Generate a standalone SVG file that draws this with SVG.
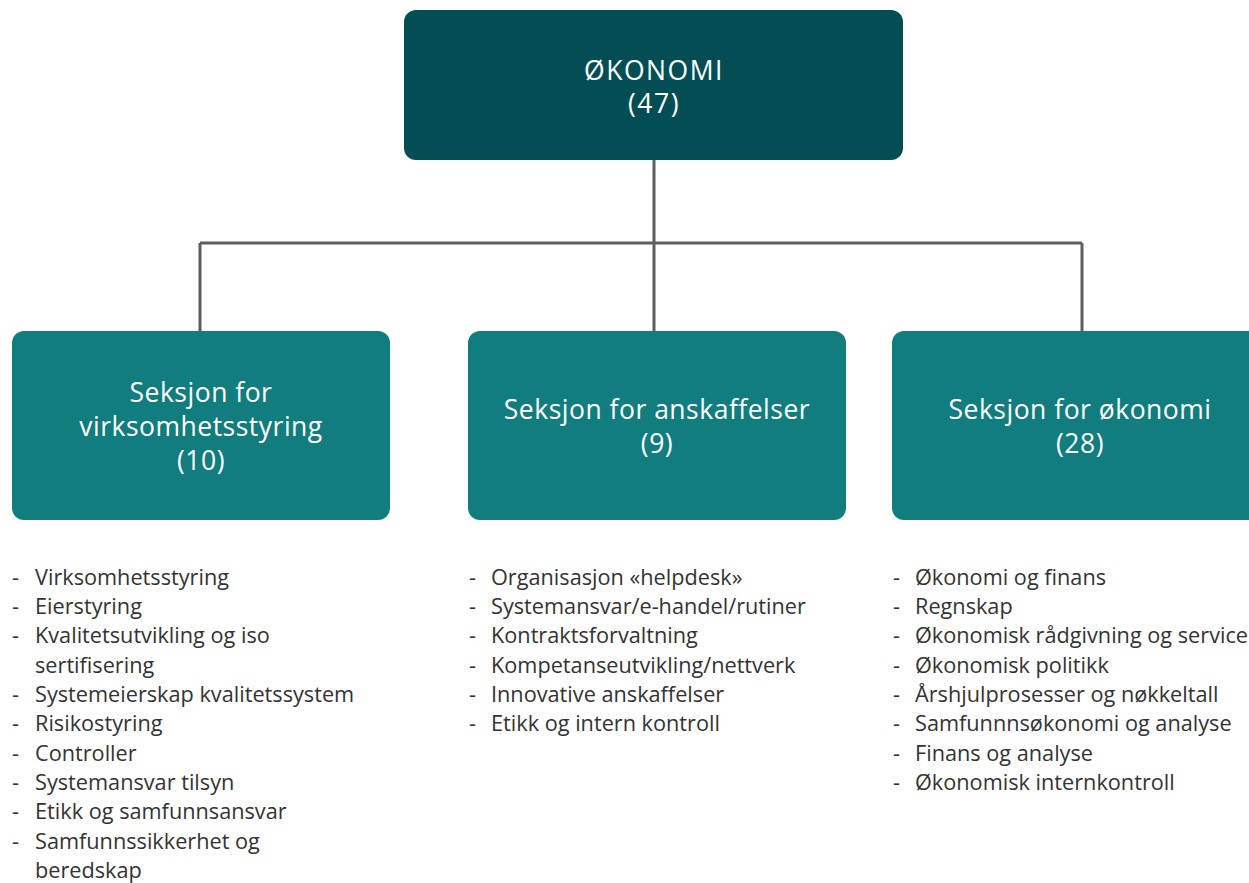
<svg xmlns="http://www.w3.org/2000/svg" width="1249" height="883" viewBox="0 0 1249 883">
<style>
.top{fill:#024E54}
.sec{fill:#117D7E}
.ht{font-family:"Open Sans",Lato,sans-serif;font-size:26.5px;letter-spacing:0.5px;fill:#fff;text-anchor:middle}
.tt{letter-spacing:1.5px}
.li{font-family:"Open Sans",Lato,sans-serif;font-size:21.7px;fill:#333}
.con{stroke:#5F5F5F;stroke-width:3;fill:none}
</style>
<rect width="1249" height="883" fill="#fff"/>
<g id="connectors">
<path class="con" d="M654 160V243M200 243H1082M200 243V331M654 243V331M1082 243V331"/>
</g>
<g id="n-okonomi">
<rect class="top" x="404" y="10" width="499" height="150" rx="12"/>
<text class="ht tt" x="654" y="80">ØKONOMI</text>
<text class="ht tt" x="654" y="113">(47)</text>
</g>
<g id="n-virksomhet">
<rect class="sec" x="12" y="331" width="378" height="189" rx="12"/>
<text class="ht" x="201" y="402">Seksjon for</text>
<text class="ht" x="201" y="436">virksomhetsstyring</text>
<text class="ht" x="201" y="470">(10)</text>
</g>
<g id="n-anskaffelser">
<rect class="sec" x="468" y="331" width="378" height="189" rx="12"/>
<text class="ht" x="657" y="419">Seksjon for anskaffelser</text>
<text class="ht" x="657" y="453">(9)</text>
</g>
<g id="n-seksjon-okonomi">
<rect class="sec" x="892" y="331" width="378" height="189" rx="12"/>
<text class="ht" x="1080" y="419">Seksjon for økonomi</text>
<text class="ht" x="1080" y="453">(28)</text>
</g>
<g id="list-virksomhet" class="li">
<text x="12" y="585">-</text><text x="35" y="585">Virksomhetsstyring</text>
<text x="12" y="614">-</text><text x="35" y="614">Eierstyring</text>
<text x="12" y="643">-</text><text x="35" y="643">Kvalitetsutvikling og iso</text>
<text x="35" y="673">sertifisering</text>
<text x="12" y="702">-</text><text x="35" y="702">Systemeierskap kvalitetssystem</text>
<text x="12" y="731">-</text><text x="35" y="731">Risikostyring</text>
<text x="12" y="761">-</text><text x="35" y="761">Controller</text>
<text x="12" y="790">-</text><text x="35" y="790">Systemansvar tilsyn</text>
<text x="12" y="819">-</text><text x="35" y="819">Etikk og samfunnsansvar</text>
<text x="12" y="849">-</text><text x="35" y="849">Samfunnssikkerhet og</text>
<text x="35" y="878">beredskap</text>
</g>
<g id="list-anskaffelser" class="li">
<text x="469" y="585">-</text><text x="491" y="585">Organisasjon «helpdesk»</text>
<text x="469" y="614">-</text><text x="491" y="614">Systemansvar/e-handel/rutiner</text>
<text x="469" y="643">-</text><text x="491" y="643">Kontraktsforvaltning</text>
<text x="469" y="673">-</text><text x="491" y="673">Kompetanseutvikling/nettverk</text>
<text x="469" y="702">-</text><text x="491" y="702">Innovative anskaffelser</text>
<text x="469" y="731">-</text><text x="491" y="731">Etikk og intern kontroll</text>
</g>
<g id="list-okonomi" class="li">
<text x="893" y="585">-</text><text x="915" y="585">Økonomi og finans</text>
<text x="893" y="614">-</text><text x="915" y="614">Regnskap</text>
<text x="893" y="643">-</text><text x="915" y="643">Økonomisk rådgivning og service</text>
<text x="893" y="673">-</text><text x="915" y="673">Økonomisk politikk</text>
<text x="893" y="702">-</text><text x="915" y="702">Årshjulprosesser og nøkkeltall</text>
<text x="893" y="731">-</text><text x="915" y="731">Samfunnnsøkonomi og analyse</text>
<text x="893" y="761">-</text><text x="915" y="761">Finans og analyse</text>
<text x="893" y="790">-</text><text x="915" y="790">Økonomisk internkontroll</text>
</g>
</svg>
